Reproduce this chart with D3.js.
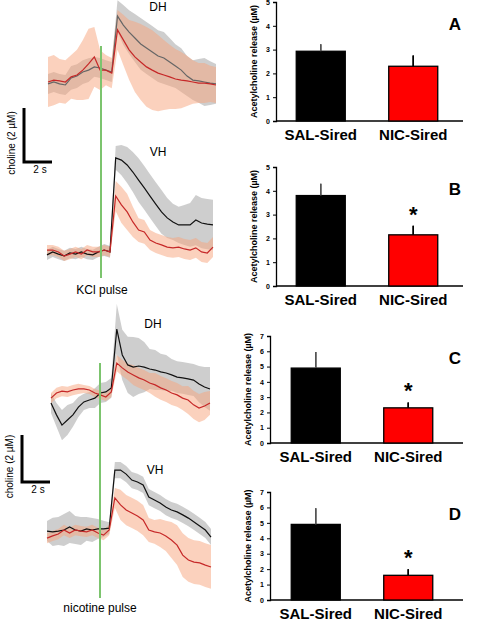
<!DOCTYPE html><html><head><meta charset="utf-8">
<script src="https://cdn.jsdelivr.net/npm/d3@7"></script>
<style>body{margin:0;background:#fff}text{font-family:"Liberation Sans",Arial,sans-serif}</style></head>
<body><svg id="c" width="485" height="625"></svg>
<script>
// time axis (s), sample every 0.4 s
const times = d3.range(30).map(i => i * 0.4);
// traces (µM relative to baseline) and SEM
const kclDH_sal = [-0.07,0,-0.07,-0.11,0.15,0.22,0.37,0.44,0.56,0.52,0.44,0.37,2.44,2.11,1.85,1.63,1.41,1.26,1.11,0.96,0.89,0.74,0.59,0.44,0.22,0.07,0.04,0,-0.04,-0.07];
const kclDH_salSem = [0.37,0.37,0.37,0.37,0.44,0.44,0.44,0.44,0.37,0.37,0.37,0.37,0.59,0.74,0.81,0.89,0.96,0.96,0.96,0.96,0.96,0.89,0.81,0.81,0.74,0.74,0.81,0.89,0.81,0.74];
const kclDH_nic = [0,0.07,0.04,0,0.19,0.26,0.44,0.67,0.93,0.44,0.44,0.33,1.93,1.56,1.19,0.93,0.74,0.56,0.44,0.33,0.26,0.19,0.11,0.07,0.04,0,-0.04,-0.04,-0.07,-0.11];
const kclDH_nicSem = [0.93,0.93,0.81,0.81,0.81,0.93,1.11,1.3,1.11,0.74,0.56,0.56,0.74,0.93,1.11,1.3,1.41,1.48,1.48,1.41,1.3,1.19,1.11,1.04,0.93,0.81,0.74,0.74,0.67,0.67];
const kclVH_sal = [-0.07,0.04,-0.04,-0.11,0,-0.04,0.04,-0.04,-0.07,0.04,0.11,0.04,3.52,3.44,3.26,3.0,2.7,2.41,2.11,1.81,1.52,1.3,1.15,1.04,1.04,1.04,1.22,1.11,1.07,1.04];
const kclVH_salSem = [0.19,0.19,0.19,0.19,0.19,0.19,0.19,0.19,0.19,0.19,0.22,0.22,0.44,0.56,0.67,0.74,0.81,0.81,0.81,0.81,0.81,0.74,0.67,0.67,0.74,0.81,0.93,0.93,0.93,0.93];
const kclVH_nic = [0.11,0.11,0.04,-0.11,-0.04,0.04,-0.04,0.11,0.04,0.04,0.11,0.04,2.11,1.78,1.52,1.15,0.85,0.78,0.48,0.37,0.3,0.22,0.19,0.22,0.15,0.11,0.19,0.04,0,0.22];
const kclVH_nicSem = [0.19,0.19,0.19,0.19,0.19,0.19,0.19,0.19,0.19,0.19,0.19,0.19,0.56,0.67,0.67,0.56,0.44,0.44,0.37,0.37,0.37,0.37,0.37,0.37,0.37,0.37,0.37,0.37,0.37,0.37];
const nicDH_sal = [-0.37,-0.81,-1.19,-1.0,-0.81,-0.52,-0.33,-0.26,-0.19,0,0.04,0.19,2.37,1.41,1.04,0.96,1.0,0.96,0.89,0.85,0.78,0.74,0.67,0.59,0.56,0.52,0.48,0.33,0.22,0.15];
const nicDH_salSem = [0.37,0.44,0.56,0.56,0.44,0.37,0.3,0.3,0.37,0.37,0.37,0.37,0.93,0.93,1.04,1.11,1.04,0.93,0.74,0.74,0.67,0.67,0.59,0.59,0.59,0.59,0.59,0.67,0.74,0.81];
const nicDH_nic = [-0.19,0,0.07,0.04,0.11,0.15,0.15,0.11,0,-0.07,-0.15,0.04,1.11,0.93,0.78,0.67,0.56,0.48,0.37,0.3,0.19,0.11,0,-0.07,-0.19,-0.26,-0.44,-0.56,-0.48,-0.37];
const nicDH_nicSem = [0.19,0.19,0.19,0.19,0.19,0.19,0.15,0.15,0.15,0.15,0.15,0.19,0.3,0.3,0.3,0.37,0.37,0.37,0.37,0.44,0.44,0.44,0.44,0.44,0.44,0.52,0.52,0.52,0.52,0.44];
const nicVH_sal = [-0.04,-0.07,-0.04,0,0.11,0,-0.04,0.04,0,0.04,0.04,0.07,2.22,2.22,2.07,1.85,1.78,1.67,1.22,1.11,1.0,0.85,0.74,0.67,0.56,0.44,0.3,0.15,0,-0.26];
const nicVH_salSem = [0.37,0.52,0.52,0.59,0.59,0.52,0.52,0.44,0.44,0.37,0.3,0.22,0.3,0.3,0.3,0.3,0.3,0.3,0.3,0.3,0.3,0.3,0.3,0.3,0.3,0.3,0.3,0.3,0.3,0.3];
const nicVH_nic = [-0.3,-0.22,-0.15,0,-0.11,0,-0.04,-0.07,0,-0.11,-0.19,0,1.19,0.93,0.74,0.63,0.52,0.37,0,-0.07,-0.11,-0.22,-0.37,-0.56,-0.93,-1.11,-1.19,-1.22,-1.3,-1.37];
const nicVH_nicSem = [0.19,0.19,0.19,0.19,0.19,0.19,0.19,0.19,0.19,0.19,0.19,0.19,0.37,0.56,0.56,0.56,0.56,0.56,0.44,0.44,0.52,0.56,0.67,0.74,0.81,0.81,0.81,0.81,0.81,0.81];
// bar data
const groups = ["SAL-Sired","NIC-Sired"];
const barA = [2.93,2.3], errA = [0.3,0.45];
const barB = [3.8,2.15], errB = [0.5,0.38];
const barC = [4.9,2.3], errC = [1.05,0.35];
const barD = [4.9,1.6], errD = [1.05,0.4];
const sigB=[false,true], sigA=[false,false];

const svg = d3.select("#c");
const PX = 27;
function trace(x0,x1,base,sal,salS,nic,nicS,label,lx,ly,salColor){
  const x = d3.scaleLinear().domain([0,11.6]).range([x0,x1]);
  const y = d3.scaleLinear().domain([0,1]).range([base,base-PX]);
  const area=(m,s)=>d3.area().x((d,i)=>x(times[i])).y0((d,i)=>y(m[i]-s[i])).y1((d,i)=>y(m[i]+s[i]))(m);
  const line=m=>d3.line().x((d,i)=>x(times[i])).y(d=>y(d))(m);
  svg.append("path").attr("d",area(sal,salS)).attr("fill","#bdbdbd").attr("opacity",0.75);
  svg.append("path").attr("d",area(nic,nicS)).attr("fill","#f7a47c").attr("opacity",0.5);
  svg.append("path").attr("d",line(sal)).attr("fill","none").attr("stroke",salColor).attr("stroke-width",1.2);
  svg.append("path").attr("d",line(nic)).attr("fill","none").attr("stroke","#c62828").attr("stroke-width",1.2);
  svg.append("text").attr("x",lx).attr("y",ly).attr("font-size",12).attr("text-anchor","middle").text(label);
}
trace(48,216,82,kclDH_sal,kclDH_salSem,kclDH_nic,kclDH_nicSem,"DH",158,11,"#666");
trace(47,213,253,kclVH_sal,kclVH_salSem,kclVH_nic,kclVH_nicSem,"VH",158,156,"#111");
trace(51,210,393,nicDH_sal,nicDH_salSem,nicDH_nic,nicDH_nicSem,"DH",153,328,"#111");
trace(47,211,530,nicVH_sal,nicVH_salSem,nicVH_nic,nicVH_nicSem,"VH",155,474,"#111");

// pulses
svg.append("line").attr("x1",101).attr("x2",101).attr("y1",46).attr("y2",278).attr("stroke","#7cc46e").attr("stroke-width",2);
svg.append("text").attr("x",102).attr("y",294).attr("font-size",12).attr("text-anchor","middle").text("KCl pulse");
svg.append("line").attr("x1",100).attr("x2",100).attr("y1",363).attr("y2",598).attr("stroke","#7cc46e").attr("stroke-width",2);
svg.append("text").attr("x",100).attr("y",612).attr("font-size",12).attr("text-anchor","middle").text("nicotine pulse");

// scale bars
function scalebar(x,ytop,ybot,xr,ty){
  svg.append("path").attr("d",`M${x},${ytop}V${ybot}H${xr}`).attr("fill","none").attr("stroke","#000").attr("stroke-width",3);
  svg.append("text").attr("x",(x+xr)/2+2).attr("y",ty).attr("font-size",10).attr("text-anchor","middle").text("2 s");
  svg.append("text").attr("transform",`translate(${x-9},${(ytop+ybot)/2+8}) rotate(-90)`).attr("font-size",10).attr("text-anchor","middle").text("choline (2 µM)");
}
scalebar(24,108,162,52,173);
scalebar(22,435,482,50,493);

// bar charts
function bars(axX,yTop,y0,max,vals,errs,sig,letter,bx){
  const y=d3.scaleLinear().domain([0,max]).range([y0,yTop]);
  const x=d3.scaleBand().domain(groups).range([bx,bx+160]).paddingInner(0.47).paddingOuter(0.1);
  const g=svg.append("g");
  const ax=g.append("g").attr("transform",`translate(${axX},0)`).call(d3.axisLeft(y).ticks(max).tickSize(3).tickFormat(d3.format("d")));
  ax.selectAll("text").attr("font-size",7).attr("font-weight","bold");
  ax.select(".domain").attr("stroke-width",1.3);
  g.append("line").attr("x1",axX).attr("x2",463).attr("y1",y0).attr("y2",y0).attr("stroke","#000").attr("stroke-width",1.5);
  groups.forEach((k,i)=>{
    const cx=x(k)+x.bandwidth()/2;
    g.append("line").attr("x1",cx).attr("x2",cx).attr("y1",y(vals[i]+errs[i])).attr("y2",y(vals[i]-errs[i])).attr("stroke",i?"#000":"#555").attr("stroke-width",1.5);
    g.append("rect").attr("x",x(k)).attr("width",x.bandwidth()).attr("y",y(vals[i])).attr("height",y0-y(vals[i])).attr("fill",i?"#ff0000":"#000").attr("stroke","#000").attr("stroke-width",1.3);
    g.append("line").attr("x1",cx).attr("x2",cx).attr("y1",y(vals[i]+errs[i])).attr("y2",y(vals[i])).attr("stroke",i?"#000":"#555").attr("stroke-width",1.5);
    g.append("text").attr("x",cx).attr("y",y0+19).attr("font-size",15).attr("font-weight","bold").attr("text-anchor","middle").text(k);
    if(sig[i]) g.append("text").attr("x",cx).attr("y",y(vals[i]+errs[i])-4).attr("font-size",22).attr("font-weight","bold").attr("text-anchor","middle").text("*");
  });
  g.append("text").attr("transform",`translate(${axX-19},${(yTop+y0)/2}) rotate(-90)`).attr("font-size",9).attr("font-weight","bold").attr("text-anchor","middle").text("Acetylcholine release (µM)");
  g.append("text").attr("x",455).attr("y",yTop+28).attr("font-size",17).attr("font-weight","bold").attr("text-anchor","middle").text(letter);
}
bars(276,2,121,5,barA,errA,sigA,"A",287);
bars(276,167,286,5,barB,errB,sigB,"B",287);
bars(270,336,443,7,barC,errC,sigB,"C",282);
bars(270,492,600,7,barD,errD,sigB,"D",282);
</script></body></html>
